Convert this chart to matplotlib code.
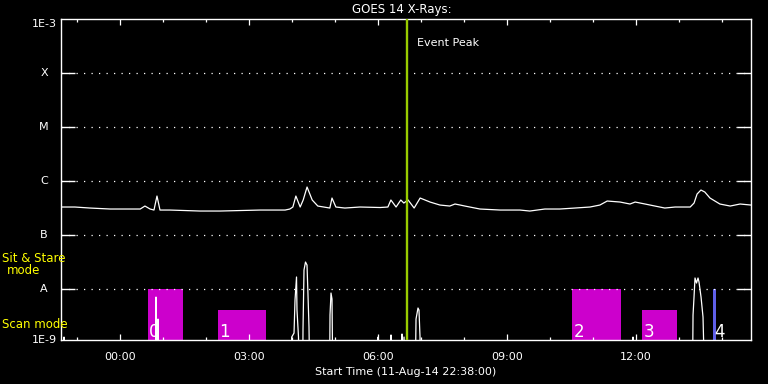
import numpy as np
import matplotlib
matplotlib.use("Agg")
import matplotlib.pyplot as plt
from matplotlib.transforms import blended_transform_factory

# time axis: hours relative to 12-Aug-14 00:00 (start 11-Aug-14 22:38)
t_start = -1.372
t_end = 14.674

# GOES 14 long channel flux (W/m^2)
xray_t = [-1.37, -1.05, -0.70, -0.23, 0.23, 0.47, 0.58, 0.70, 0.79, 0.86, 0.93,
          1.16, 1.86, 2.33, 3.26, 3.84, 3.95, 4.02, 4.09, 4.19, 4.26, 4.35,
          4.47, 4.60, 4.88, 4.93, 5.02, 5.23, 5.58, 6.05, 6.23, 6.30, 6.42,
          6.53, 6.60, 6.70, 6.77, 6.84, 6.98, 7.21, 7.44, 7.67, 7.79, 7.91,
          8.02, 8.37, 8.84, 9.30, 9.53, 9.88, 10.23, 10.58, 10.93, 11.16,
          11.33, 11.63, 11.86, 11.98, 12.21, 12.44, 12.67, 12.91, 13.26,
          13.35, 13.42, 13.51, 13.60, 13.72, 13.95, 14.19, 14.42, 14.67]
xray_flux = [3.30e-7, 3.30e-7, 3.16e-7, 3.03e-7, 3.03e-7, 3.03e-7, 3.44e-7,
             3.03e-7, 2.90e-7, 5.27e-7, 2.90e-7, 2.90e-7, 2.78e-7, 2.78e-7,
             2.90e-7, 2.90e-7, 3.03e-7, 3.30e-7, 5.27e-7, 3.30e-7, 4.45e-7,
             7.74e-7, 4.45e-7, 3.44e-7, 3.16e-7, 4.84e-7, 3.30e-7, 3.16e-7,
             3.30e-7, 3.23e-7, 3.30e-7, 4.45e-7, 3.30e-7, 4.45e-7, 3.91e-7,
             4.45e-7, 3.75e-7, 3.16e-7, 4.84e-7, 4.08e-7, 3.59e-7, 3.44e-7,
             3.75e-7, 3.59e-7, 3.44e-7, 3.03e-7, 2.90e-7, 2.90e-7, 2.78e-7,
             3.03e-7, 3.03e-7, 3.16e-7, 3.30e-7, 3.59e-7, 4.26e-7, 4.08e-7,
             3.75e-7, 4.08e-7, 3.75e-7, 3.44e-7, 3.16e-7, 3.30e-7, 3.30e-7,
             3.91e-7, 5.74e-7, 6.81e-7, 6.25e-7, 4.84e-7, 3.75e-7, 3.44e-7,
             3.75e-7, 3.59e-7]

# lower trace (spiky), 1e-10 = off the bottom of the axis
low_t = [-1.37, -1.31, -1.302, -1.29, 0.82, 0.837, 0.85, 0.872, 0.884, 0.896,
         3.98, 3.993, 4.047, 4.070, 4.105, 4.116, 4.151, 4.163, 4.245, 4.256,
         4.279, 4.314, 4.349, 4.372, 4.395, 4.419, 4.87, 4.884, 4.907, 4.930,
         4.953, 5.99, 6.0, 6.01, 6.29, 6.302, 6.315, 6.545, 6.558, 6.58,
         6.605, 6.63, 6.66, 6.674, 6.69, 6.86, 6.884, 6.930, 6.953, 6.977,
         6.99, 11.92, 11.93, 11.94, 13.31, 13.326, 13.349, 13.372, 13.407,
         13.442, 13.465, 13.512, 13.558, 13.605, 14.67]
low_flux = [1e-10, 1e-10, 1.29e-9, 1e-10, 1e-10, 7.11e-9, 1e-10, 1e-10, 2.78e-9,
            1e-10, 1e-10, 1.29e-9, 1.53e-9, 6.25e-9, 1.67e-8, 4.08e-9, 1.29e-9,
            1e-10, 1e-10, 1.82e-9, 2.25e-8, 3.16e-8, 2.78e-8, 7.74e-9, 1.98e-9,
            1e-10, 1e-10, 3.30e-9, 8.43e-9, 6.53e-9, 1e-10, 1e-10, 1.29e-9,
            1e-10, 1e-10, 1.41e-9, 1e-10, 1e-10, 1.47e-9, 1e-10, 1.29e-9, 1e-10,
            1e-10, 1.29e-9, 1e-10, 1e-10, 2.78e-9, 4.45e-9, 4.08e-9, 1.29e-9,
            1e-10, 1e-10, 1.29e-9, 1e-10, 1e-10, 3.30e-9, 7.11e-9, 1.60e-8,
            1.29e-8, 1.60e-8, 1.35e-8, 7.11e-9, 3.03e-9, 1e-10, 1e-10]

# observing mode blocks
mode_ids = ["0", "1", "2", "3", "4"]
mode_start = [0.651, 2.279, 10.512, 12.140, 13.790]
mode_end = [1.465, 3.395, 11.651, 12.953, 13.860]
mode_top = [1e-8, 4.08e-9, 1e-8, 4.08e-9, 1e-8]
mode_color = ["#cc00cc", "#cc00cc", "#cc00cc", "#cc00cc", "#5f5fe8"]

event_peak = 6.674

level_vals = [1e-3, 1e-4, 1e-5, 1e-6, 1e-7, 1e-8]
level_labels = ["1E-3", "X", "M", "C", "B", "A"]
ybot = 10 ** -8.944

xtick_pos = [0, 3, 6, 9, 12]
xtick_labels = ["00:00", "03:00", "06:00", "09:00", "12:00"]
xminor_pos = [-1, 1, 2, 4, 5, 7, 8, 10, 11, 13, 14]

plt.rcParams['font.family'] = ['DejaVu Sans']

fig = plt.figure(figsize=(7.68, 3.84), dpi=100, facecolor="black")
ax = fig.add_axes([61 / 768, 1 - 340 / 384, 690 / 768, 321 / 384])
ax.set_facecolor("black")
ax.set_yscale("log")
ax.set_xlim(t_start, t_end)
ax.set_ylim(ybot, 1e-3)

# mode bars
for s, e, top, c in zip(mode_start, mode_end, mode_top, mode_color):
    ax.bar(s, top - ybot, bottom=ybot, width=e - s, align="edge", color=c,
           linewidth=0, zorder=1)

# dotted level lines
for v in level_vals[1:]:
    ax.axhline(v, color="white", lw=0.9, ls=(0, (1, 5)), zorder=2)

ax.plot(xray_t, xray_flux, color="white", lw=0.9, zorder=3)
ax.plot(low_t, low_flux, color="white", lw=0.9, zorder=3)

ax.axvline(event_peak, color="#99cc00", lw=1.7, zorder=4)
tr = blended_transform_factory(ax.transData, ax.transAxes)
ax.text(event_peak + 0.23, 0.925, "Event Peak", color="white", fontsize=8,
        transform=tr, va="center", ha="left")

for s, lab in zip(mode_start, mode_ids):
    ax.text(s + 0.03, 0.008, lab, color="white", fontsize=12, transform=tr,
            va="baseline", ha="left", zorder=5)

# axes styling
for sp in ax.spines.values():
    sp.set_color("white")
    sp.set_linewidth(1.0)
ax.set_xticks(xtick_pos, labels=xtick_labels)
ax.set_xticks(xminor_pos, minor=True)
ax.tick_params(axis="x", which="major", direction="in", top=True, bottom=True,
               length=4.5, width=0.9, color="white", labelcolor="white",
               labelsize=8, pad=9)
ax.tick_params(axis="x", which="minor", direction="in", top=True, bottom=True,
               length=2.5, width=0.9, color="white")
ax.set_yticks(level_vals[1:])
ax.yaxis.set_minor_locator(matplotlib.ticker.NullLocator())
ax.tick_params(axis="y", which="major", direction="in", left=True, right=True,
               length=10, width=1.0, color="white", labelleft=False)
ax.set_xlabel("Start Time (11-Aug-14 22:38:00)", color="white", fontsize=8,
              labelpad=3)
fig.text(402 / 768, 1 - 9 / 384, "GOES 14 X-Rays:", color="white", fontsize=8.5,
         ha="center", va="center")

# y level labels
ytr = blended_transform_factory(fig.transFigure, ax.transData)
ax.text(57 / 768, 1e-3, level_labels[0], color="white", fontsize=8, ha="right",
        va="top", transform=ytr)
for v, lab in zip(level_vals[1:], level_labels[1:]):
    ax.text(44 / 768, v, lab, color="white", fontsize=8, ha="center",
            va="center", transform=ytr)
ax.text(57 / 768, ybot, "1E-9", color="white", fontsize=8, ha="right",
        va="center", transform=ytr)

# mode labels
fig.text(2 / 768, 1 - 259 / 384, "Sit & Stare", color="#ffff00", fontsize=8.5,
         ha="left", va="center")
fig.text(24 / 768, 1 - 271 / 384, "mode", color="#ffff00", fontsize=8.5,
         ha="center", va="center")
fig.text(2 / 768, 1 - 324 / 384, "Scan mode", color="#ffff00", fontsize=8.5,
         ha="left", va="center")

fig.savefig("out.png", dpi=100, facecolor="black")
